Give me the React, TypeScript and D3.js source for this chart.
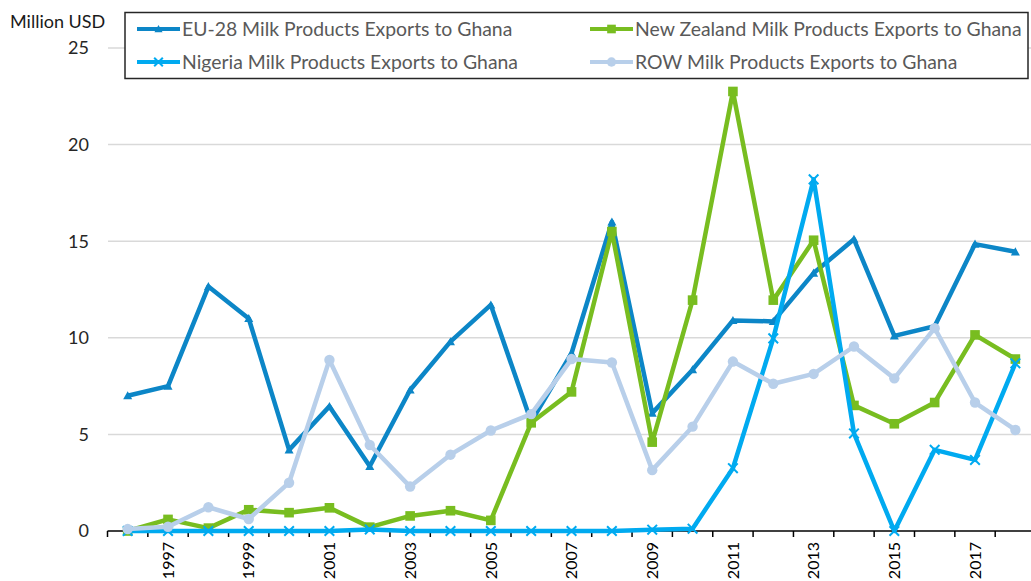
import React, { useEffect, useRef } from "react";
import * as d3 from "d3";

const years = d3.range(1996, 2019).map(String);
const tickYears = ["1997","1999","2001","2003","2005","2007","2009","2011","2013","2015","2017"];
const yTicks = [0, 5, 10, 15, 20, 25];

const euValues = [7.0, 7.5, 12.65, 11.0, 4.2, 6.45, 3.35, 7.3, 9.8, 11.7, 5.65, 9.2, 16.0, 6.1, 8.35, 10.9, 10.85, 13.35, 15.1, 10.1, 10.6, 14.85, 14.45];
const nzValues = [0.0, 0.6, 0.15, 1.1, 0.95, 1.2, 0.2, 0.78, 1.05, 0.55, 5.6, 7.2, 15.5, 4.6, 11.95, 22.75, 11.95, 15.05, 6.5, 5.55, 6.65, 10.15, 8.9];
const ngValues = [0.0, 0.0, 0.0, 0.0, 0.0, 0.0, 0.08, 0.0, 0.0, 0.0, 0.0, 0.0, 0.0, 0.07, 0.12, 3.25, 9.97, 18.2, 5.05, 0.0, 4.2, 3.68, 8.68];
const rowValues = [0.1, 0.22, 1.23, 0.62, 2.5, 8.85, 4.45, 2.3, 3.95, 5.2, 6.05, 8.9, 8.72, 3.15, 5.4, 8.77, 7.62, 8.13, 9.55, 7.9, 10.5, 6.65, 5.23];

const seriesNames = [
  "EU-28 Milk Products Exports to Ghana",
  "New Zealand Milk Products Exports to Ghana",
  "Nigeria Milk Products Exports to Ghana",
  "ROW Milk Products Exports to Ghana",
];

type Marker = "triangle" | "square" | "cross" | "circle";
const series: { name: string; values: number[]; color: string; marker: Marker }[] = [
  { name: seriesNames[0], values: euValues, color: "#0C86C7", marker: "triangle" },
  { name: seriesNames[1], values: nzValues, color: "#78BD20", marker: "square" },
  { name: seriesNames[2], values: ngValues, color: "#00AAF0", marker: "cross" },
  { name: seriesNames[3], values: rowValues, color: "#B8CFEA", marker: "circle" },
];

const W = 1031, H = 581;
const FONT = "Lato, 'Open Sans', sans-serif";

function drawMarker(g: any, type: Marker, x: number, y: number, color: string, scale = 1) {
  if (type === "triangle") {
    const s = 4.5 * scale;
    g.append("path").attr("d", `M${x},${y - s} L${x + s},${y + s * 0.8} L${x - s},${y + s * 0.8} Z`).attr("fill", color);
  } else if (type === "square") {
    const s = 4.8 * scale;
    g.append("rect").attr("x", x - s).attr("y", y - s).attr("width", 2 * s).attr("height", 2 * s).attr("fill", color);
  } else if (type === "cross") {
    const s = 4.8 * scale;
    g.append("path").attr("d", `M${x - s},${y - s} L${x + s},${y + s} M${x - s},${y + s} L${x + s},${y - s}`).attr("stroke", color).attr("stroke-width", 2).attr("fill", "none");
  } else {
    g.append("circle").attr("cx", x).attr("cy", y).attr("r", 5.2 * scale).attr("fill", color);
  }
}

export default function App() {
  const ref = useRef<SVGSVGElement>(null);
  useEffect(() => {
    const svg = d3.select(ref.current!);
    svg.selectAll("*").remove();

    const x = d3.scaleBand<string>().domain(years).range([107.5, 107.5 + 23 * 40.35]).padding(0);
    const y = d3.scaleLinear().domain([0, 25]).range([531, 48]);
    const cx = (yr: string) => (x(yr) as number) + x.bandwidth() / 2;

    svg.append("g").selectAll("line").data(yTicks.filter(t => t > 0)).join("line")
      .attr("x1", 108).attr("x2", W).attr("y1", d => y(d)).attr("y2", d => y(d))
      .attr("stroke", "#d9d9d9").attr("stroke-width", 1.5);

    svg.append("g").selectAll("text").data(yTicks).join("text")
      .attr("x", 89).attr("y", d => y(d)).attr("dy", "0.36em").attr("text-anchor", "end")
      .attr("font-family", FONT).attr("font-size", 18).attr("fill", "#262626").text(d => String(d));

    svg.append("text").attr("x", 10).attr("y", 28).attr("font-family", FONT).attr("font-size", 18)
      .attr("fill", "#1a1a1a").text("Million USD");

    const ax = svg.append("g");
    ax.append("line").attr("x1", 107.5).attr("x2", W).attr("y1", 531).attr("y2", 531).attr("stroke", "#000").attr("stroke-width", 1.5);
    ax.selectAll("line.tick").data(years).join("line").attr("class", "tick")
      .attr("x1", d => x(d) as number).attr("x2", d => x(d) as number).attr("y1", 531).attr("y2", 537)
      .attr("stroke", "#000").attr("stroke-width", 1.5);
    ax.selectAll("text").data(tickYears).join("text")
      .attr("transform", d => `translate(${cx(d)},542) rotate(-90)`)
      .attr("text-anchor", "end").attr("dy", "0.36em")
      .attr("font-family", FONT).attr("font-size", 16).attr("fill", "#000").text(d => d);

    const line = d3.line<number>().x((_, i) => cx(years[i])).y(d => y(d));
    series.forEach(s => {
      const g = svg.append("g");
      g.append("path").attr("d", line(s.values)!).attr("fill", "none").attr("stroke", s.color)
        .attr("stroke-width", 4.5).attr("stroke-linejoin", "round");
      s.values.forEach((v, i) => drawMarker(g, s.marker, cx(years[i]), y(v), s.color));
    });

    const lg = svg.append("g");
    lg.append("rect").attr("x", 125).attr("y", 12.5).attr("width", 903).attr("height", 66)
      .attr("fill", "#fff").attr("stroke", "#262626").attr("stroke-width", 1.5);
    const pos = [
      { lx: 137, ty: 29 }, { lx: 590, ty: 29 }, { lx: 137, ty: 62 }, { lx: 590, ty: 62 },
    ];
    series.forEach((s, i) => {
      const p = pos[i];
      const gg = lg.append("g");
      gg.append("line").attr("x1", p.lx).attr("x2", p.lx + 43).attr("y1", p.ty).attr("y2", p.ty)
        .attr("stroke", s.color).attr("stroke-width", 4);
      drawMarker(gg, s.marker, p.lx + 21.5, p.ty, s.color, 0.9);
      gg.append("text").attr("x", p.lx + 45).attr("y", p.ty).attr("dy", "0.36em")
        .attr("font-family", FONT).attr("font-size", 19.4).attr("fill", "#595959").text(s.name);
    });
  }, []);
  return <svg ref={ref} width={W} height={H} style={{ position: "absolute", left: 0, top: 0, background: "#fff" }} />;
}
